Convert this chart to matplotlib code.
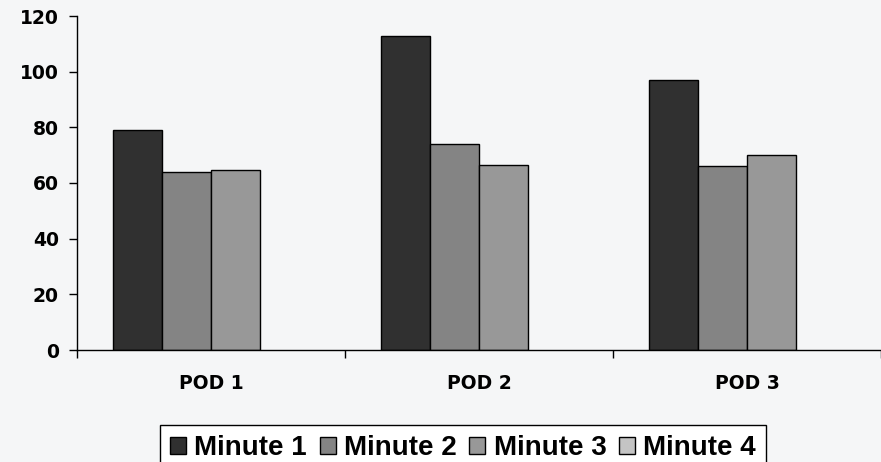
import numpy as np
import matplotlib.pyplot as plt

pods = ["POD 1", "POD 2", "POD 3"]
minute1 = [79, 112.8, 97]
minute2 = [64, 74, 66]
minute3 = [64.5, 66.5, 70]
minute4 = [np.nan, np.nan, np.nan]

series = [minute1, minute2, minute3, minute4]
names = ["Minute 1", "Minute 2", "Minute 3", "Minute 4"]
colors = ["#303030", "#848484", "#989898", "#c4c4c4"]

bg = "#f5f6f7"
fig = plt.figure(figsize=(8.81, 4.62), dpi=100, facecolor=bg)
ax = fig.add_axes([77/881, 1-350/462, 1-77/881, (350-16)/462])
ax.set_facecolor(bg)

x = np.arange(len(pods))
w = 0.183
handles = []
for i, (vals, nm, c) in enumerate(zip(series, names, colors)):
    b = ax.bar(x + (i - 1.5) * w, vals, w, color=c, edgecolor="black",
               linewidth=1, label=nm)
    handles.append(b)

ax.set_xlim(-0.5, 2.5)
ax.set_ylim(0, 120)
ax.set_yticks(range(0, 121, 20))
ax.set_xticks([-0.5, 0.5, 1.5, 2.5])
ax.set_xticklabels([])
ax.set_xticks(x, minor=True)
ax.set_xticklabels(pods, minor=True)

for s in ["top", "right"]:
    ax.spines[s].set_visible(False)
for s in ["left", "bottom"]:
    ax.spines[s].set_linewidth(1)

ax.tick_params(axis="y", direction="out", length=6, width=1, pad=7)
ax.tick_params(axis="x", which="major", direction="out", length=6, width=1)
ax.tick_params(axis="x", which="minor", length=0, pad=17)
for lab in ax.get_yticklabels() + ax.get_xticklabels(minor=True):
    lab.set_fontfamily("DejaVu Sans")
    lab.set_fontweight("bold")
    lab.set_fontsize(13.5)

leg = fig.legend(handles=handles, loc="upper center",
                 bbox_to_anchor=(463/881, 1-425/462), ncol=4,
                 prop={"family": "Liberation Sans", "weight": "bold", "size": 20},
                 frameon=True, fancybox=False, edgecolor="black",
                 facecolor="white", framealpha=1,
                 handlelength=0.58, handleheight=0.58, handletextpad=0.3,
                 columnspacing=0.45, borderpad=0.36, borderaxespad=0)
leg.get_frame().set_linewidth(1)

fig.savefig("out.png", dpi=100, facecolor=bg)
